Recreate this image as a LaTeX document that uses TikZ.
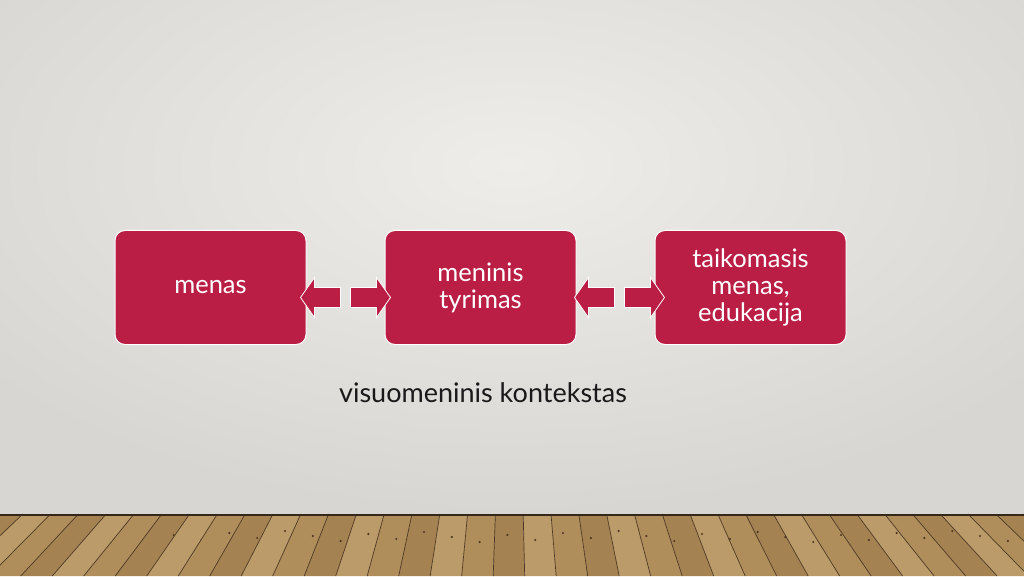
\documentclass[tikz,border=0pt]{standalone}
\usepackage{fontspec}
\setmainfont{Lato}
\usetikzlibrary{positioning,calc}
\definecolor{crimson}{RGB}{186,30,68}
\definecolor{wallin}{RGB}{238,237,234}
\definecolor{wallout}{RGB}{216,214,210}
\definecolor{plank0}{RGB}{176,142,92}
\definecolor{plank1}{RGB}{164,130,82}
\definecolor{plank2}{RGB}{188,155,106}
\definecolor{seam}{RGB}{78,56,34}
\tikzset{
 box/.style={draw=white, line width=1pt, fill=crimson, rounded corners=10pt, minimum width=191pt, minimum height=114pt, text=white, align=center, font=\fontsize{25.5}{27}\selectfont, inner sep=0pt},
 blockarrow/.style={draw=white, line width=0.8pt, fill=crimson, line join=miter}
}
\begin{document}
\begin{tikzpicture}[x=1pt,y=1pt]
 \useasboundingbox (0,0) rectangle (1024,576);
 \shade[inner color=wallin, outer color=wallout] (-150,62) rectangle (1174,760);
 \foreach \k [evaluate=\k as \xa using 412+27.8*\k, evaluate=\k as \xb using 412+27.8*(\k+1)] in {-18,...,25}{
  \pgfmathtruncatemacro\c{mod(\k+40,3)}
  \fill[plank\c] (\xa,62) -- (\xb,62) -- ({512+(\xb-512)*1.133},0) -- ({512+(\xa-512)*1.133},0) -- cycle;
  \draw[seam, line width=0.7pt] (\xa,62) -- ({512+(\xa-512)*1.133},0);
  \fill[seam] ({\xa+12},{34+mod(\k*7+70,12)}) circle (1.2pt);
 }
 \draw[seam!70!black, line width=2.5pt] (0,61) -- (1024,61);

 \node[box] (menas) at (210.5,288.5) {menas};
 \node[box, right=78pt of menas] (tyrimas) {meninis\\tyrimas};
 \node[box, right=78pt of tyrimas] (edukacija) {taikomasis\\menas,\\edukacija};
 \node[font=\fontsize{27}{30}\selectfont, text=black!90, anchor=base] (kontekstas) at (483,174) {visuomeninis kontekstas};

 \foreach \a/\b/\s in {menas/tyrimas/0, tyrimas/edukacija/4}{
  \coordinate (mid) at ($(\a.east)!.5!(\b.west)+(\s,0)$);
  \draw[blockarrow] ($(mid)+(-45,-10)$) -- ++(14,20) -- ++(0,-10) -- ++(26,0) -- ++(0,-20) -- ++(-26,0) -- ++(0,-10) -- cycle;
  \draw[blockarrow] ($(mid)+(45,-10)$) -- ++(-14,20) -- ++(0,-10) -- ++(-26,0) -- ++(0,-20) -- ++(26,0) -- ++(0,-10) -- cycle;
 }
\end{tikzpicture}
\end{document}
